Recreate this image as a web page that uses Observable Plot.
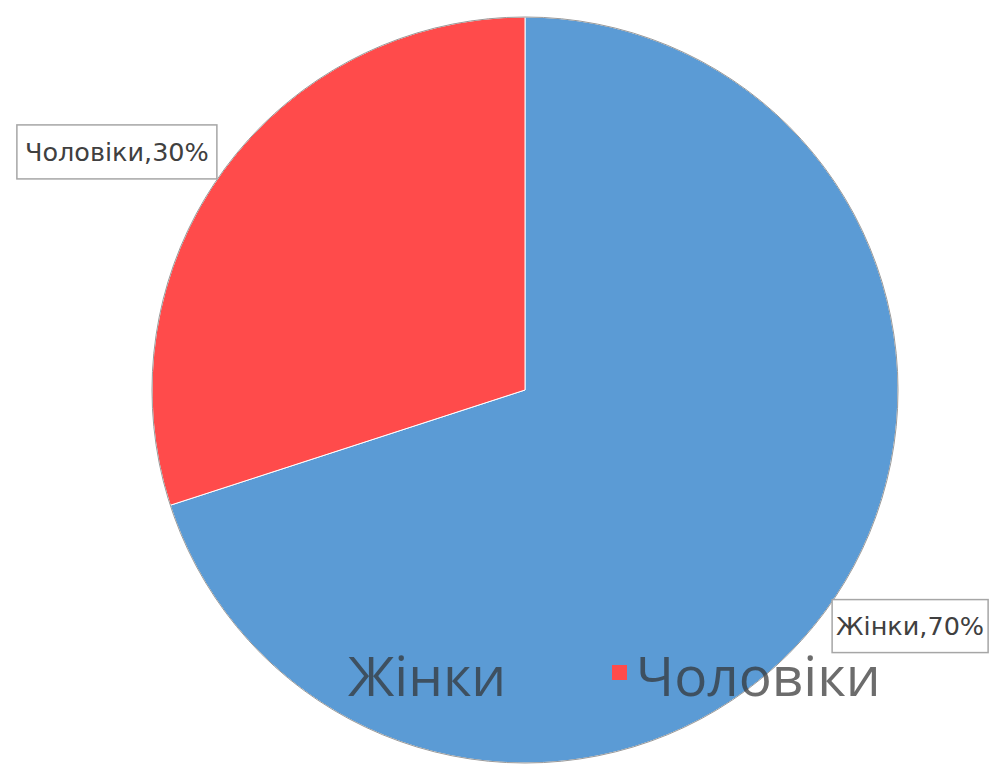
<!DOCTYPE html>
<html><head><meta charset="utf-8">
<script src="https://cdn.jsdelivr.net/npm/d3@7"></script>
<script src="https://cdn.jsdelivr.net/npm/@observablehq/plot@0.6"></script>
<style>html,body{margin:0;padding:0;background:#fff;overflow:hidden}</style>
</head><body><div id="chart"></div>
<script>
// ---- data ----
const categories = ["Жінки", "Чоловіки"];
const values = [70, 30];
const labelTexts = ["Жінки,70%", "Чоловіки,30%"];
const colors = ["#5B9BD5", "#FF4B4B"];

// ---- layout (pixels / radius factors only) ----
const W = 992, H = 764;
const labelRadius = 1.2;
const labelShift = [[23, -27], [-46, 25]];
const labelBox = [[156, 53], [200, 54]];
const labelFont = "25.5px 'DejaVu Sans'";
const legendFont = "55px 'Open Sans'";
const legendMarkerX = [325, 612];
const legendTextX = [348, 636];

const slices = categories.map((c, i) => ({category: c, value: values[i], label: labelTexts[i]}));

const pie = d3.pie().value(d => d.value).sort(null);

function pieRender(index, scales) {
  const cx = scales.x(0), cy = scales.y(0), r = scales.x(1) - scales.x(0);
  const arcs = pie(slices);
  const arc = d3.arc().innerRadius(0).outerRadius(r);
  const g = d3.create("svg:g").attr("transform", `translate(${cx},${cy})`);
  g.selectAll("path").data(arcs).join("path")
    .attr("d", arc)
    .attr("fill", d => scales.color(d.data.category))
    .attr("stroke", "#ffffff").attr("stroke-width", 1);
  g.append("circle").attr("r", r).attr("fill", "none").attr("stroke", "#9a9a9a").attr("stroke-width", 1);
  return g.node();
}

function labelRender(index, scales) {
  const cx = scales.x(0), cy = scales.y(0), r = scales.x(1) - scales.x(0);
  const arcs = pie(slices);
  const g = d3.create("svg:g");
  arcs.forEach((a, i) => {
    const m = (a.startAngle + a.endAngle) / 2;
    const x = cx + Math.sin(m) * r * labelRadius + labelShift[i][0];
    const y = cy - Math.cos(m) * r * labelRadius + labelShift[i][1];
    const [bw, bh] = labelBox[i];
    g.append("rect").attr("x", x - bw / 2).attr("y", y - bh / 2).attr("width", bw).attr("height", bh)
      .attr("fill", "#fff").attr("stroke", "#a6a6a6").attr("stroke-width", 1.5);
    g.append("text").attr("x", x).attr("y", y).attr("text-anchor", "middle").attr("dy", "0.35em")
      .style("font", labelFont).attr("fill", "#404040").text(a.data.label);
  });
  return g.node();
}

function legendRender(index, scales) {
  const g = d3.create("svg:g");
  const cyText = 677, mk = 15;
  categories.forEach((c, i) => {
    g.append("rect").attr("x", legendMarkerX[i]).attr("y", cyText - 12).attr("width", mk).attr("height", mk)
      .attr("fill", scales.color(c));
    g.append("text").attr("x", legendTextX[i]).attr("y", cyText).attr("dy", "0.35em")
      .attr("text-anchor", "start")
      .style("font", legendFont).attr("fill", "#333333").attr("fill-opacity", 0.72).text(c);
  });
  return g.node();
}

const chart = Plot.plot({
  width: W, height: H,
  margin: 0,
  x: {domain: [-1, 1], range: [152, 898], axis: null},
  y: {domain: [-1, 1], range: [763, 17], axis: null},
  color: {domain: categories, range: colors},
  style: {background: "#fff"},
  marks: [
    Plot.dot(slices, {x: () => 0, y: () => 0, fill: "category", render: pieRender}),
    Plot.dot(slices, {x: () => 0, y: () => 0, fill: "category", render: legendRender}),
    Plot.dot(slices, {x: () => 0, y: () => 0, fill: "category", render: labelRender})
  ]
});
document.getElementById("chart").appendChild(chart);
</script>
</body></html>
